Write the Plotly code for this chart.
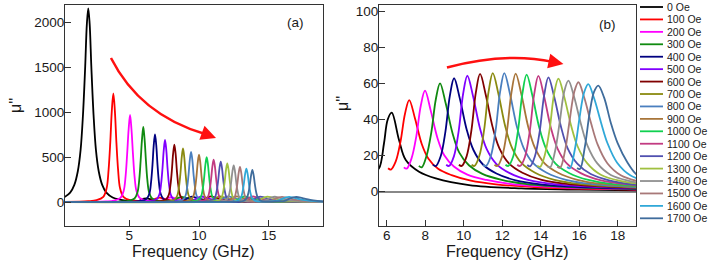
import plotly.graph_objects as go

FIELDS = ["0 Oe", "100 Oe", "200 Oe", "300 Oe", "400 Oe", "500 Oe", "600 Oe", "700 Oe", "800 Oe",
          "900 Oe", "1000 Oe", "1100 Oe", "1200 Oe", "1300 Oe", "1400 Oe", "1500 Oe", "1600 Oe", "1700 Oe"]
COLORS = ["#000000", "#ff0000", "#ff00ff", "#108a10", "#000080", "#8000ff", "#800000", "#8a8a10", "#4a7fbf",
          "#a8753a", "#10d050", "#c23b82", "#5050b0", "#a0c040", "#909090", "#a87878", "#30a8d8", "#3f6c9c"]

A_X = [
    [0.3, 0.75, 1.05, 1.3, 1.5, 1.67, 1.83, 1.95, 2.05, 2.15, 2.27, 2.43, 2.6, 2.8, 3.05, 3.35, 3.8, 4.3],
    [0.3, 2.05, 2.65, 3.13, 3.37, 3.51, 3.63, 3.74, 3.85, 3.96, 4.07, 4.19, 4.33, 4.57, 5.05],
    [0.3, 3.32, 3.9, 4.36, 4.59, 4.73, 4.84, 4.95, 5.05, 5.15, 5.26, 5.37, 5.51, 5.74, 6.2],
    [0.3, 4.42, 4.95, 5.37, 5.58, 5.71, 5.81, 5.91, 6.0, 6.09, 6.19, 6.29, 6.42, 6.63, 7.05],
    [0.3, 5.34, 5.84, 6.24, 6.44, 6.56, 6.66, 6.75, 6.84, 6.93, 7.02, 7.12, 7.24, 7.44, 7.84],
    [0.3, 6.06, 6.56, 6.96, 7.16, 7.28, 7.38, 7.47, 7.56, 7.65, 7.74, 7.84, 7.96, 8.16, 8.56],
    [0.3, 6.73, 7.23, 7.63, 7.83, 7.95, 8.05, 8.14, 8.23, 8.32, 8.41, 8.51, 8.63, 8.83, 9.23],
    [0.3, 7.35, 7.85, 8.25, 8.45, 8.57, 8.67, 8.76, 8.85, 8.94, 9.03, 9.13, 9.25, 9.45, 9.85],
    [0.3, 7.93, 8.43, 8.83, 9.03, 9.15, 9.25, 9.34, 9.43, 9.52, 9.61, 9.71, 9.83, 10.03, 10.43],
    [0.3, 8.5, 9.0, 9.4, 9.6, 9.72, 9.82, 9.91, 10.0, 10.09, 10.18, 10.28, 10.4, 10.6, 11.0],
    [0.3, 9.05, 9.55, 9.95, 10.15, 10.27, 10.37, 10.46, 10.55, 10.64, 10.73, 10.83, 10.95, 11.15, 11.55],
    [0.3, 9.55, 10.05, 10.45, 10.65, 10.77, 10.87, 10.96, 11.05, 11.14, 11.23, 11.33, 11.45, 11.65, 12.05],
    [0.3, 10.06, 10.56, 10.96, 11.16, 11.28, 11.38, 11.47, 11.56, 11.65, 11.74, 11.84, 11.96, 12.16, 12.56],
    [0.3, 10.53, 11.03, 11.43, 11.63, 11.75, 11.85, 11.94, 12.03, 12.12, 12.21, 12.31, 12.43, 12.63, 13.03],
    [0.3, 10.99, 11.49, 11.89, 12.09, 12.21, 12.31, 12.4, 12.49, 12.58, 12.67, 12.77, 12.89, 13.09, 13.49],
    [0.3, 11.44, 11.94, 12.34, 12.54, 12.66, 12.76, 12.85, 12.94, 13.03, 13.12, 13.22, 13.34, 13.54, 13.94],
    [0.3, 11.9, 12.4, 12.8, 13.0, 13.12, 13.22, 13.31, 13.4, 13.49, 13.58, 13.68, 13.8, 14.0, 14.4],
    [0.3, 12.33, 12.83, 13.23, 13.43, 13.55, 13.65, 13.74, 13.83, 13.92, 14.01, 14.11, 14.23, 14.43, 14.83],
]
A_Y = [
    [54, 108, 194, 346, 583, 972, 1512, 1987, 2160, 1987, 1512, 972, 583, 346, 194, 108, 54, 30],
    [3, 12, 24, 61, 158, 364, 667, 1018, 1212, 1018, 667, 364, 158, 61, 24],
    [3, 10, 19, 49, 126, 292, 535, 816, 972, 816, 535, 292, 126, 49, 19],
    [3, 8, 17, 42, 109, 252, 462, 706, 840, 706, 462, 252, 109, 42, 17],
    [3, 8, 15, 38, 98, 227, 416, 636, 757, 636, 416, 227, 98, 38, 15],
    [3, 7, 14, 35, 90, 208, 382, 583, 694, 583, 382, 208, 90, 35, 14],
    [3, 6, 13, 32, 83, 193, 353, 539, 642, 539, 353, 193, 83, 32, 13],
    [3, 6, 12, 30, 78, 180, 329, 503, 599, 503, 329, 180, 78, 30, 12],
    [3, 6, 11, 28, 73, 169, 309, 472, 562, 472, 309, 169, 73, 28, 11],
    [3, 5, 11, 27, 69, 159, 292, 445, 530, 445, 292, 159, 69, 27, 11],
    [3, 5, 10, 25, 65, 151, 276, 422, 502, 422, 276, 151, 65, 25, 10],
    [3, 5, 10, 24, 62, 143, 262, 400, 476, 400, 262, 143, 62, 24, 10],
    [3, 5, 9, 23, 59, 136, 249, 380, 452, 380, 249, 136, 59, 23, 9],
    [3, 4, 9, 22, 56, 130, 238, 363, 432, 363, 238, 130, 56, 22, 9],
    [3, 4, 8, 21, 53, 123, 226, 345, 411, 345, 226, 123, 53, 21, 8],
    [3, 4, 8, 20, 51, 118, 216, 330, 393, 330, 216, 118, 51, 20, 8],
    [3, 4, 8, 19, 49, 113, 207, 316, 376, 316, 207, 113, 49, 19, 8],
    [3, 4, 7, 18, 47, 108, 199, 303, 361, 303, 199, 108, 47, 18, 7],
]

# second (high-frequency) resonance, panel b and the tail of panel a
B_X = [
    [5.0, 5.35, 5.6, 5.86, 6.05, 6.26, 6.64, 6.99, 7.68, 8.55, 10.28, 13.0, 16.0, 19.6],
    [6.07, 6.22, 6.47, 6.72, 6.95, 7.17, 7.47, 7.82, 8.17, 8.67, 9.37, 10.37, 11.67, 14.17, 18.17, 19.6],
    [6.89, 7.04, 7.29, 7.54, 7.77, 7.99, 8.29, 8.64, 8.99, 9.49, 10.19, 11.19, 12.49, 14.99, 18.99, 19.6],
    [7.67, 7.82, 8.07, 8.32, 8.55, 8.77, 9.07, 9.42, 9.77, 10.27, 10.97, 11.97, 13.27, 15.77, 19.6],
    [8.4, 8.55, 8.8, 9.05, 9.28, 9.5, 9.8, 10.15, 10.5, 11.0, 11.7, 12.7, 14.0, 16.5, 19.6],
    [9.09, 9.24, 9.49, 9.74, 9.97, 10.19, 10.49, 10.84, 11.19, 11.69, 12.39, 13.39, 14.69, 17.19, 19.6],
    [9.75, 9.9, 10.15, 10.4, 10.63, 10.85, 11.15, 11.5, 11.85, 12.35, 13.05, 14.05, 15.35, 17.85, 19.6],
    [10.41, 10.56, 10.81, 11.06, 11.29, 11.51, 11.81, 12.16, 12.51, 13.01, 13.71, 14.71, 16.01, 18.51, 19.6],
    [11.01, 11.16, 11.41, 11.66, 11.89, 12.11, 12.41, 12.76, 13.11, 13.61, 14.31, 15.31, 16.61, 19.11, 19.6],
    [11.6, 11.75, 12.0, 12.25, 12.48, 12.7, 13.0, 13.35, 13.7, 14.2, 14.9, 15.9, 17.2, 19.6],
    [12.17, 12.32, 12.57, 12.82, 13.05, 13.27, 13.57, 13.92, 14.27, 14.77, 15.47, 16.47, 17.77, 19.6],
    [12.78, 12.93, 13.18, 13.43, 13.66, 13.88, 14.18, 14.53, 14.88, 15.38, 16.08, 17.08, 18.38, 19.6],
    [13.3, 13.45, 13.7, 13.95, 14.18, 14.4, 14.7, 15.05, 15.4, 15.9, 16.6, 17.6, 18.9, 19.6],
    [13.82, 13.97, 14.22, 14.47, 14.7, 14.92, 15.22, 15.57, 15.92, 16.42, 17.12, 18.12, 19.6],
    [14.34, 14.49, 14.74, 14.99, 15.22, 15.44, 15.74, 16.09, 16.44, 16.94, 17.64, 18.64, 19.6],
    [14.86, 15.01, 15.26, 15.51, 15.74, 15.96, 16.26, 16.61, 16.96, 17.46, 18.16, 19.16, 19.6],
    [15.37, 15.52, 15.77, 16.02, 16.25, 16.47, 16.77, 17.12, 17.47, 17.97, 18.67, 19.6],
    [15.89, 16.04, 16.29, 16.54, 16.77, 16.99, 17.29, 17.64, 17.99, 18.49, 18.99, 19.6],
]
B_Y = [
    [14, 11.5, 13, 26.9, 40, 43.9, 28.7, 17.6, 11.1, 7.4, 3.7, 1.8, 1.1, 0.7],
    [13, 12.3, 16.8, 28, 43.3, 50.9, 40.7, 26.5, 18.3, 12.7, 9.2, 6.1, 4.1, 2.3, 1.3, 1.1],
    [13.5, 12.8, 18.5, 30.9, 47.7, 56.1, 44.9, 29.7, 20.2, 14.0, 9.5, 6.5, 4.2, 2.4, 1.35, 1.25],
    [14.3, 13.5, 19.9, 33.1, 51.2, 60.2, 48.8, 32.5, 21.7, 14.7, 9.9, 6.6, 4.2, 2.4, 1.5],
    [15, 14.2, 19.5, 33.4, 53.2, 63, 51.7, 34.7, 23.3, 15.1, 10.1, 6.3, 4.1, 2.4, 1.6],
    [15, 14.3, 19.6, 33.8, 54.4, 64.4, 52.8, 35.4, 23.8, 15.5, 10.3, 6.4, 4.2, 2.5, 1.8],
    [15, 14.3, 19.6, 34, 55, 65.4, 53.6, 36, 24.2, 15.7, 10.5, 6.5, 4.3, 2.5, 2.0],
    [15, 14.3, 19.8, 34.3, 55.4, 65.9, 54.0, 36.2, 24.4, 15.8, 10.5, 6.6, 4.3, 2.5, 2.2],
    [15, 14.3, 19.8, 34.3, 55.4, 65.9, 54.0, 36.2, 24.4, 15.8, 10.5, 6.6, 4.3, 2.5, 2.35],
    [15, 14.3, 19.7, 34.1, 55.1, 65.6, 53.8, 36.1, 24.3, 15.7, 10.5, 6.6, 4.3, 2.7],
    [15, 14.3, 19.5, 33.8, 54.6, 65, 53.3, 35.8, 24.1, 15.6, 10.4, 6.5, 4.2, 3.0],
    [15, 14.3, 19.3, 33.4, 54, 64.3, 52.7, 35.4, 23.8, 15.4, 10.3, 6.4, 4.2, 3.3],
    [14.8, 14.1, 19.7, 33.7, 53.6, 63.5, 52.7, 36.2, 24.1, 15.6, 9.8, 6.2, 3.9, 3.3],
    [14.5, 13.8, 20.7, 35.2, 54.6, 62.8, 52.8, 37.1, 25.1, 15.7, 9.4, 6.0, 3.8],
    [14.2, 13.5, 22.2, 38.9, 55.5, 61.7, 52.4, 37.6, 25.3, 15.7, 9.3, 5.9, 4.0],
    [14, 13.3, 22.5, 40.1, 55.3, 60.8, 52.3, 38.3, 26.1, 15.8, 9.1, 5.5, 4.7],
    [13.7, 13.0, 23.3, 41.3, 55.0, 59.8, 52, 38.9, 26.9, 16.1, 9.0, 5.7],
    [13.2, 12.6, 24.7, 43.6, 55.4, 58.9, 52.4, 38.3, 27.1, 16.5, 9.4, 6.0],
]

X_TICKS_A = [5, 10, 15]
Y_TICKS_A = [0, 500, 1000, 1500, 2000]
X_TICKS_B = [6, 8, 10, 12, 14, 16, 18]
Y_TICKS_B = [0, 20, 40, 60, 80, 100]

W, H = 708, 271
FONT = "Liberation Sans, Arial, sans-serif"
TXT = "#1a1a1a"
AX = "#333333"

fig = go.Figure()
for i in range(len(FIELDS)):
    fig.add_trace(go.Scatter(
        x=A_X[i] + B_X[i], y=A_Y[i] + B_Y[i], mode="lines", name=FIELDS[i],
        line=dict(color=COLORS[i], width=1.8, shape="spline", smoothing=1.0),
        xaxis="x", yaxis="y", showlegend=False, hoverinfo="skip"))
for i in range(len(FIELDS)):
    fig.add_trace(go.Scatter(
        x=B_X[i], y=B_Y[i], mode="lines", name=FIELDS[i],
        line=dict(color=COLORS[i], width=1.8, shape="spline", smoothing=1.0),
        xaxis="x2", yaxis="y2", showlegend=False, hoverinfo="skip"))

def px(x):
    return x / W

def py(y):
    return 1 - y / H

common = dict(showline=True, mirror=True, linecolor=AX, linewidth=1.2, ticks="inside", ticklen=6,
              tickcolor=AX, tickwidth=1, showgrid=False, tickfont=dict(family=FONT, size=13.5, color=TXT))
fig.update_layout(
    width=W, height=H, margin=dict(l=0, r=0, t=0, b=0), autosize=False,
    paper_bgcolor="white", plot_bgcolor="white",
    xaxis=dict(domain=[px(65), px(323)], range=[0.38, 18.9], tickvals=X_TICKS_A, zeroline=False,
               anchor="y", ticklabelstandoff=-3, **common),
    yaxis=dict(domain=[py(226), py(5)], range=[-264, 2197], tickvals=Y_TICKS_A, zeroline=True,
               zerolinecolor="#888888", zerolinewidth=1.5, anchor="x", ticklabelstandoff=-3, **common),
    xaxis2=dict(domain=[px(379), px(636)], range=[5.6, 18.95], tickvals=X_TICKS_B, zeroline=False,
                anchor="y2", ticklabelstandoff=-3, **common),
    yaxis2=dict(domain=[py(226), py(5)], range=[-19.06, 103.7], tickvals=Y_TICKS_B, zeroline=True,
                zerolinecolor="#888888", zerolinewidth=1.5, anchor="x2", ticklabelstandoff=-3, **common),
)

shapes = []
annotations = []
# curved red arrows
shapes.append(dict(type="path", xref="x", yref="y", path="M 3.68,1607 Q 5.76,972 10.43,761",
                   line=dict(color="#ff1010", width=2.5)))
annotations.append(dict(xref="x", yref="y", axref="x", ayref="y", x=11.22, y=716, ax=10.43, ay=761,
                        text="", showarrow=True, arrowhead=2, arrowsize=1.2, arrowwidth=2.5,
                        arrowcolor="#ff1010"))
shapes.append(dict(type="path", xref="x2", yref="y2", path="M 9.13,69.0 Q 12.2,77.7 14.64,72.1",
                   line=dict(color="#ff1010", width=2.5)))
annotations.append(dict(xref="x2", yref="y2", axref="x2", ayref="y2", x=15.18, y=70.9, ax=14.64, ay=72.1,
                        text="", showarrow=True, arrowhead=2, arrowsize=1.2, arrowwidth=2.5,
                        arrowcolor="#ff1010"))

def label(x, y, text, size, xanchor="center", angle=0):
    annotations.append(dict(xref="paper", yref="paper", x=px(x), y=py(y), text=text, showarrow=False,
                            xanchor=xanchor, yanchor="middle", textangle=angle,
                            font=dict(family=FONT, size=size, color=TXT)))

# panel labels
label(295, 23, "(a)", 13.5)
label(607, 24, "(b)", 13.5)
# axis titles
label(194, 251, "Frequency (GHz)", 16)
label(507, 251, "Frequency (GHz)", 16)
label(15, 106, "\u03bc''", 16, angle=-90)
label(342, 104, "\u03bc''", 16, angle=-90)

# legend drawn by hand (18 compact rows)
for i, name in enumerate(FIELDS):
    yy = 7 + 12.43 * i
    shapes.append(dict(type="line", xref="paper", yref="paper", x0=px(640), x1=px(663), y0=py(yy), y1=py(yy),
                       line=dict(color=COLORS[i], width=1.8)))
    label(665, yy, name, 10.5, xanchor="left")

fig.update_layout(shapes=shapes, annotations=annotations)
fig.write_html("out.html", config={"displayModeBar": False},
               post_script="document.body.style.margin='0';document.body.style.padding='0';")
